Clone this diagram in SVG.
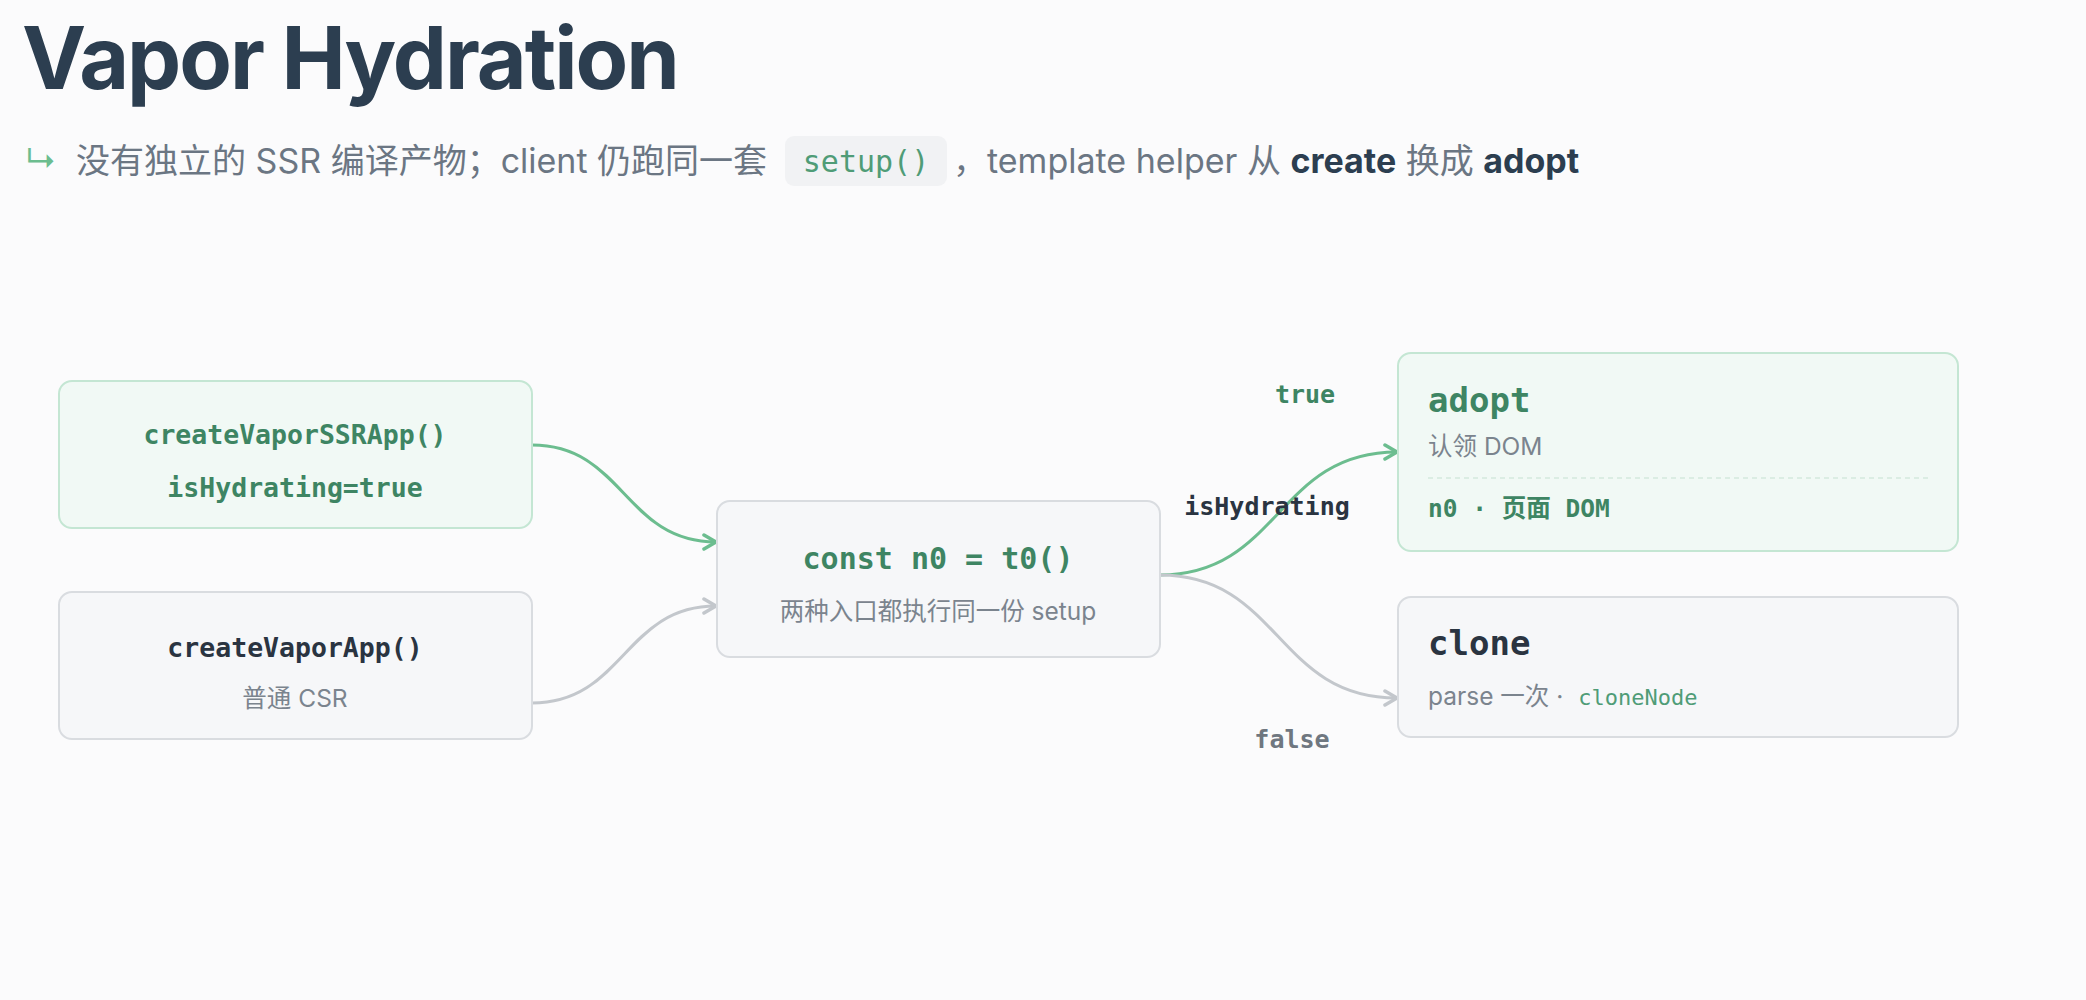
<svg xmlns="http://www.w3.org/2000/svg" width="2086" height="1000" viewBox="0 0 2086 1000">
  <defs>
    <style>
      .sans { font-family: Inter, "Noto Sans CJK SC", sans-serif; }
      .mono { font-family: "DejaVu Sans Mono", "Noto Sans CJK SC", monospace; }
      .title { font-size: 86px; font-weight: 700; fill: #2c3e50; letter-spacing: -2px; }
      .sub { font-size: 34px; fill: #6b7683; }
      .subb { font-weight: 700; fill: #2c3e50; }
      .nodeG { fill: #f1f9f5; stroke: #c4e6d3; stroke-width: 2; }
      .nodeN { fill: #f6f7f9; stroke: #d9dce0; stroke-width: 2; }
      .codeG { font-weight: 700; fill: #3e8563; }
      .codeD { font-weight: 700; fill: #2a3441; }
      .note { font-size: 24.5px; fill: #7b848e; }
      .edgeG { fill: none; stroke: #6cbd8f; stroke-width: 3; }
      .edgeN { fill: none; stroke: #c3c7cc; stroke-width: 3; }
      .lbl { font-size: 25px; font-weight: 700; }
    </style>
    <marker id="arrG" viewBox="0 0 16 18" refX="14" refY="9" markerWidth="16" markerHeight="18" markerUnits="userSpaceOnUse" orient="auto">
      <path d="M2,2 L14,9 L2,16" fill="none" stroke="#6cbd8f" stroke-width="3.5" stroke-linecap="round" stroke-linejoin="round"/>
    </marker>
    <marker id="arrN" viewBox="0 0 16 18" refX="14" refY="9" markerWidth="16" markerHeight="18" markerUnits="userSpaceOnUse" orient="auto">
      <path d="M2,2 L14,9 L2,16" fill="none" stroke="#c3c7cc" stroke-width="3.5" stroke-linecap="round" stroke-linejoin="round"/>
    </marker>
  </defs>

  <rect x="0" y="0" width="2086" height="1000" fill="#fbfbfc"/>

  <g id="header">
    <text class="sans title" x="22" y="89">Vapor Hydration</text>
    <text class="sans" x="25" y="172" font-size="32" fill="#6cbd8f">↳</text>
    <text class="sans sub" x="76" y="173">没有独立的 SSR 编译产物；client 仍跑同一套</text>
    <rect x="785" y="136" width="162" height="50" rx="9" fill="#f1f2f4"/>
    <text class="mono" x="866" y="172" font-size="30" fill="#4f9c77" text-anchor="middle">setup()</text>
    <text class="sans sub" x="953" y="173">，template helper 从 <tspan class="subb">create</tspan> 换成 <tspan class="subb">adopt</tspan></text>
  </g>

  <g id="connectors">
    <path id="e-ssr" class="edgeG" d="M532,445 C624,445 624,542 716,542" marker-end="url(#arrG)"/>
    <path id="e-csr" class="edgeN" d="M532,703 C624,703 624,606 716,606" marker-end="url(#arrN)"/>
    <path id="e-true" class="edgeG" d="M1160,575 C1280,575 1276,452 1397,452" marker-end="url(#arrG)"/>
    <path id="e-false" class="edgeN" d="M1160,575 C1280,575 1276,698 1397,698" marker-end="url(#arrN)"/>
    <text class="mono lbl" x="1305" y="403" text-anchor="middle" fill="#3e8563">true</text>
    <text class="mono lbl" x="1267" y="515" text-anchor="middle" fill="#2a3441">isHydrating</text>
    <text class="mono lbl" x="1292" y="748" text-anchor="middle" fill="#6f7780">false</text>
  </g>

  <g id="node-ssr">
    <rect class="nodeG" x="59" y="381" width="473" height="147" rx="13"/>
    <text class="mono codeG" x="295" y="444" font-size="26.5" text-anchor="middle">createVaporSSRApp()</text>
    <text class="mono codeG" x="295" y="497" font-size="26.5" text-anchor="middle">isHydrating=true</text>
  </g>

  <g id="node-csr">
    <rect class="nodeN" x="59" y="592" width="473" height="147" rx="13"/>
    <text class="mono codeD" x="295" y="657" font-size="26.5" text-anchor="middle">createVaporApp()</text>
    <text class="sans note" x="295" y="707" text-anchor="middle">普通 CSR</text>
  </g>

  <g id="node-setup">
    <rect class="nodeN" x="717" y="501" width="443" height="156" rx="13"/>
    <text class="mono codeG" x="938" y="569" font-size="30" text-anchor="middle">const n0 = t0()</text>
    <text class="sans note" x="938" y="620" text-anchor="middle">两种入口都执行同一份 setup</text>
  </g>

  <g id="node-adopt">
    <rect class="nodeG" x="1398" y="353" width="560" height="198" rx="13"/>
    <text class="mono codeG" x="1428" y="412" font-size="34">adopt</text>
    <text class="sans note" x="1428" y="455">认领 DOM</text>
    <line x1="1428" y1="478" x2="1930" y2="478" stroke="#d4e9dd" stroke-width="1.5" stroke-dasharray="5 4"/>
    <text class="mono codeG" x="1428" y="517" font-size="24.5">n0 · 页面 DOM</text>
  </g>

  <g id="node-clone">
    <rect class="nodeN" x="1398" y="597" width="560" height="140" rx="13"/>
    <text class="mono codeD" x="1428" y="655" font-size="34">clone</text>
    <text class="sans note" x="1428" y="705">parse 一次 · <tspan class="mono" font-size="22" fill="#4f9c77" dx="8">cloneNode</tspan></text>
  </g>
</svg>
